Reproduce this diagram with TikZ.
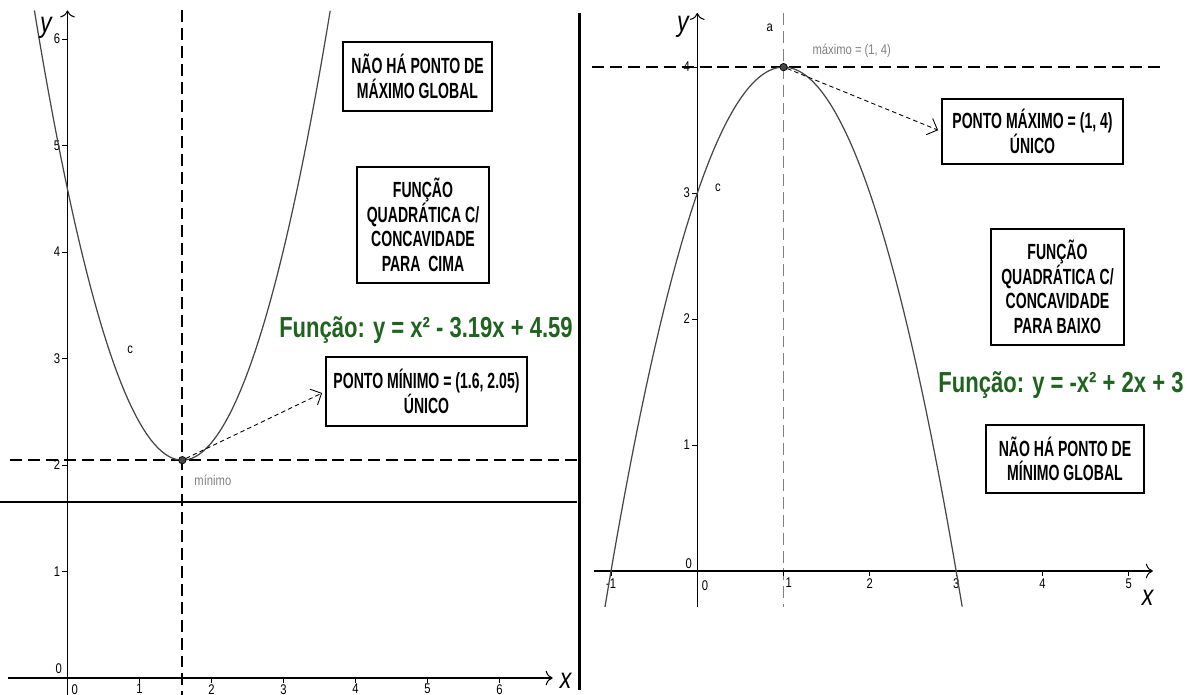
\documentclass[tikz,border=0pt]{standalone}
\usepackage{fontspec}
\setmainfont{Liberation Sans}
\newfontfamily\narrowfont[FakeStretch=0.8]{Liberation Sans}
\newfontfamily\boxfont[FakeStretch=0.64]{Liberation Sans}
\newfontfamily\eqfont[FakeStretch=0.76]{Liberation Sans}
\usetikzlibrary{arrows.meta}
\definecolor{eqgreen}{RGB}{30,100,30}
\definecolor{plotgray}{RGB}{70,70,70}
\tikzset{
  infobox/.style={draw, line width=0.8pt, align=center, inner sep=0pt,
    font=\boxfont\bfseries\fontsize{12.5}{14}\selectfont},
  eqlabel/.style={text=eqgreen, font=\eqfont\bfseries\fontsize{16.5}{18}\selectfont},
  ticklab/.style={font=\narrowfont\fontsize{8}{9}\selectfont, inner sep=1pt},
  axislab/.style={font=\narrowfont\itshape\fontsize{16.5}{18}\selectfont, inner sep=0pt},
  ptlabel/.style={font=\narrowfont\fontsize{8}{9}\selectfont},
  guide/.style={dash pattern=on 6.8pt off 3.4pt},
  pointer/.style={dash pattern=on 2.5pt off 1.8pt, line width=0.5pt,
    -{Straight Barb[length=5pt,width=10pt]}, shorten >=2pt},
  vertex/.style={circle, fill=plotgray, draw=black, inner sep=0pt, minimum size=4.2pt},
  axisline/.style={line width=0.6pt, -{To[length=4pt]}},
  curve/.style={plotgray, line width=0.7pt}
}
\begin{document}
\begin{tikzpicture}[x=0.02cm, y=-0.02cm]
  \useasboundingbox (0,0) rectangle (1190,695);

  % left graph: concave up
  \begin{scope}[shift={(67.5,678)}, x=1.44cm, y=2.13cm]
    \draw[line width=0.85pt] (-0.94,1.653) -- (7.08,1.653);
    \draw[guide, line width=0.85pt] (-0.8,2.046) -- (7.08,2.046);
    \draw[guide, line width=1.1pt] (1.595,6.27) -- (1.595,-0.16);
    \draw[axisline] (-0.83,0) -- (6.74,0);
    \draw[axisline] (0,-0.16) -- (0,6.27);
    \foreach \k in {1,...,6} {
      \draw[line width=0.5pt] (\k,0) -- ++(0,-3pt) node[ticklab, below, inner sep=0.3pt] {\k};
      \draw[line width=0.5pt] (0,\k) -- ++(-3pt,0) node[ticklab, left] {\k};
    }
    \node[ticklab, below, inner sep=0.3pt] (xzero) at (0.1,-0.05) {0};
    \node[ticklab] (yzero) at (-0.12,0.09) {0};
    \draw[curve] plot[domain=-0.46:3.65, samples=80] (\x, {\x*\x-3.19*\x+4.59});
    \node[vertex] (minpt) at (1.595,2.046) {};
    \node[ptlabel, text=gray] (minname) at (2.02,1.86) {mínimo};
    \node[ptlabel] (cleft) at (0.87,3.08) {c};
    \node[axislab] (yleft) at (-0.3,6.11) {y};
    \node[axislab] (xleft) at (6.92,-0.03) {x};
  \end{scope}

  \node[infobox, minimum width=2.98cm, minimum height=1.38cm] (nomax) at (417.5,76.5) {NÃO HÁ PONTO DE\\MÁXIMO GLOBAL};
  \node[infobox, minimum width=2.64cm, minimum height=2.32cm] (upbox) at (423,225) {FUNÇÃO\\QUADRÁTICA C/\\CONCAVIDADE\\PARA \ CIMA};
  \node[eqlabel] (upeq) at (426,330) {Função: y = x² - 3.19x + 4.59};
  \node[infobox, minimum width=4.02cm, minimum height=1.38cm] (minbox) at (426.5,391.5) {PONTO MÍNIMO = (1.6, 2.05)\\ÚNICO};
  \draw[pointer] (minpt) -- (minbox.west);

  \draw[line width=1.7pt] (579,13) -- (579,690);

  % right graph: concave down
  \begin{scope}[shift={(697.3,571)}, x=1.726cm, y=2.52cm]
    \draw[guide, line width=0.85pt] (-1.22,4) -- (5.4,4);
    \draw[guide, gray, line width=0.6pt] (1,4.43) -- (1,-0.286);
    \draw[axisline] (-1.2,0) -- (5.28,0);
    \draw[axisline] (0,-0.286) -- (0,4.43);
    \foreach \k in {-1,2,3,4,5}
      \draw[line width=0.5pt] (\k,0) -- ++(0,-3pt) node[ticklab, below] {\k};
    \draw[line width=0.5pt] (1,0) -- ++(0,-3pt);
    \node[ticklab] (xone) at (1.06,-0.09) {1};
    \foreach \k in {1,...,4}
      \draw[line width=0.5pt] (0,\k) -- ++(-3pt,0) node[ticklab, left] {\k};
    \node[ticklab] (xzerob) at (0.09,-0.12) {0};
    \node[ticklab] (yzerob) at (-0.1,0.056) {0};
    \draw[curve] plot[domain=-1.07:3.07, samples=80] (\x, {-\x*\x+2*\x+3});
    \node[vertex] (maxpt) at (1,4) {};
    \node[ptlabel] (aname) at (0.84,4.31) {a};
    \node[ptlabel, text=gray] (maxname) at (1.79,4.13) {máximo = (1, 4)};
    \node[ptlabel] (cright) at (0.24,3.04) {c};
    \node[axislab] (yright) at (-0.166,4.32) {y};
    \node[axislab] (xright) at (5.22,-0.21) {x};
  \end{scope}

  \node[infobox, minimum width=3.62cm, minimum height=1.3cm] (maxbox) at (1032.5,131.5) {PONTO MÁXIMO = (1, 4)\\ÚNICO};
  \node[infobox, minimum width=2.66cm, minimum height=2.32cm] (downbox) at (1057.5,287) {FUNÇÃO\\QUADRÁTICA C/\\CONCAVIDADE\\PARA BAIXO};
  \node[eqlabel] (downeq) at (1061,385) {Função: y = -x² + 2x + 3};
  \node[infobox, minimum width=3.16cm, minimum height=1.36cm] (nomin) at (1065,459) {NÃO HÁ PONTO DE\\MÍNIMO GLOBAL};
  \draw[pointer] (maxpt) -- (maxbox.west);
\end{tikzpicture}
\end{document}
